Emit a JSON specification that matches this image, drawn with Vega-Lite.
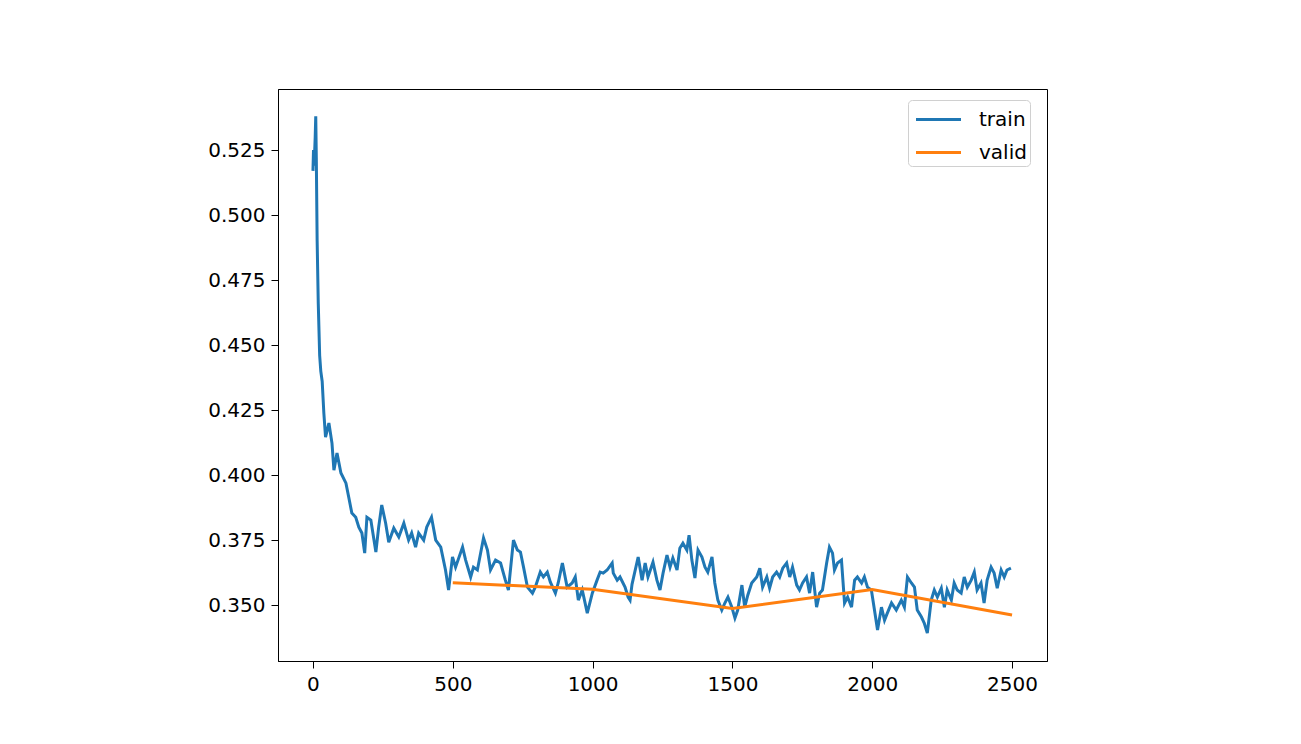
{
  "$schema": "https://vega.github.io/schema/vega-lite/v6.json",
  "width": 769,
  "height": 572,
  "autosize": {"type": "none"},
  "padding": {"left": 278, "top": 89, "right": 254, "bottom": 83},
  "background": "white",
  "config": {
    "view": {"stroke": "black", "strokeWidth": 1},
    "font": "DejaVu Sans",
    "axis": {
      "domainColor": "black", "tickColor": "black", "labelColor": "black",
      "grid": false, "tickSize": 7, "labelFontSize": 20, "labelFont": "DejaVu Sans",
      "labelPadding": 6, "title": null
    }
  },
  "data": {"values": [
    {"step":0,"loss":0.517,"series":"train"},{"step":2,"loss":0.525,"series":"train"},{"step":4,"loss":0.519,"series":"train"},{"step":6,"loss":0.524,"series":"train"},{"step":8,"loss":0.530,"series":"train"},{"step":10,"loss":0.538,"series":"train"},{"step":12,"loss":0.522,"series":"train"},{"step":15,"loss":0.490,"series":"train"},{"step":19,"loss":0.466,"series":"train"},{"step":24,"loss":0.446,"series":"train"},{"step":28,"loss":0.440,"series":"train"},{"step":33,"loss":0.436,"series":"train"},{"step":39,"loss":0.4238,"series":"train"},{"step":45,"loss":0.4146,"series":"train"},{"step":57,"loss":0.4200,"series":"train"},{"step":68,"loss":0.4123,"series":"train"},{"step":75,"loss":0.4019,"series":"train"},{"step":86,"loss":0.4085,"series":"train"},{"step":100,"loss":0.4008,"series":"train"},{"step":118,"loss":0.3969,"series":"train"},{"step":128,"loss":0.3915,"series":"train"},{"step":139,"loss":0.3854,"series":"train"},{"step":153,"loss":0.3838,"series":"train"},{"step":164,"loss":0.3800,"series":"train"},{"step":175,"loss":0.3777,"series":"train"},{"step":185,"loss":0.3700,"series":"train"},{"step":193,"loss":0.3838,"series":"train"},{"step":207,"loss":0.3827,"series":"train"},{"step":225,"loss":0.3704,"series":"train"},{"step":235,"loss":0.3800,"series":"train"},{"step":246,"loss":0.3885,"series":"train"},{"step":260,"loss":0.3815,"series":"train"},{"step":271,"loss":0.3742,"series":"train"},{"step":289,"loss":0.3796,"series":"train"},{"step":307,"loss":0.3762,"series":"train"},{"step":325,"loss":0.3815,"series":"train"},{"step":342,"loss":0.3750,"series":"train"},{"step":353,"loss":0.3777,"series":"train"},{"step":367,"loss":0.3723,"series":"train"},{"step":378,"loss":0.3777,"series":"train"},{"step":396,"loss":0.3750,"series":"train"},{"step":407,"loss":0.3800,"series":"train"},{"step":424,"loss":0.3838,"series":"train"},{"step":439,"loss":0.3750,"series":"train"},{"step":457,"loss":0.3723,"series":"train"},{"step":474,"loss":0.3635,"series":"train"},{"step":485,"loss":0.3558,"series":"train"},{"step":499,"loss":0.3685,"series":"train"},{"step":510,"loss":0.3646,"series":"train"},{"step":535,"loss":0.3723,"series":"train"},{"step":546,"loss":0.3673,"series":"train"},{"step":564,"loss":0.3608,"series":"train"},{"step":574,"loss":0.3646,"series":"train"},{"step":588,"loss":0.3635,"series":"train"},{"step":610,"loss":0.3758,"series":"train"},{"step":624,"loss":0.3712,"series":"train"},{"step":635,"loss":0.3635,"series":"train"},{"step":653,"loss":0.3673,"series":"train"},{"step":671,"loss":0.3662,"series":"train"},{"step":688,"loss":0.3596,"series":"train"},{"step":699,"loss":0.3558,"series":"train"},{"step":717,"loss":0.3750,"series":"train"},{"step":731,"loss":0.3712,"series":"train"},{"step":742,"loss":0.3704,"series":"train"},{"step":753,"loss":0.3646,"series":"train"},{"step":767,"loss":0.3569,"series":"train"},{"step":785,"loss":0.3546,"series":"train"},{"step":795,"loss":0.3569,"series":"train"},{"step":813,"loss":0.3627,"series":"train"},{"step":824,"loss":0.3608,"series":"train"},{"step":838,"loss":0.3627,"series":"train"},{"step":849,"loss":0.3588,"series":"train"},{"step":867,"loss":0.3546,"series":"train"},{"step":877,"loss":0.3585,"series":"train"},{"step":892,"loss":0.3662,"series":"train"},{"step":909,"loss":0.3569,"series":"train"},{"step":927,"loss":0.3585,"series":"train"},{"step":938,"loss":0.3608,"series":"train"},{"step":949,"loss":0.3519,"series":"train"},{"step":963,"loss":0.3558,"series":"train"},{"step":981,"loss":0.3469,"series":"train"},{"step":999,"loss":0.3546,"series":"train"},{"step":1016,"loss":0.3596,"series":"train"},{"step":1027,"loss":0.3627,"series":"train"},{"step":1038,"loss":0.3623,"series":"train"},{"step":1052,"loss":0.3635,"series":"train"},{"step":1070,"loss":0.3662,"series":"train"},{"step":1074,"loss":0.3623,"series":"train"},{"step":1088,"loss":0.3596,"series":"train"},{"step":1098,"loss":0.3608,"series":"train"},{"step":1116,"loss":0.3569,"series":"train"},{"step":1127,"loss":0.3531,"series":"train"},{"step":1134,"loss":0.3519,"series":"train"},{"step":1141,"loss":0.3580,"series":"train"},{"step":1163,"loss":0.3685,"series":"train"},{"step":1177,"loss":0.3596,"series":"train"},{"step":1188,"loss":0.3662,"series":"train"},{"step":1198,"loss":0.3608,"series":"train"},{"step":1216,"loss":0.3665,"series":"train"},{"step":1230,"loss":0.3596,"series":"train"},{"step":1241,"loss":0.3558,"series":"train"},{"step":1252,"loss":0.3623,"series":"train"},{"step":1266,"loss":0.3692,"series":"train"},{"step":1277,"loss":0.3646,"series":"train"},{"step":1287,"loss":0.3681,"series":"train"},{"step":1302,"loss":0.3635,"series":"train"},{"step":1312,"loss":0.3719,"series":"train"},{"step":1323,"loss":0.3738,"series":"train"},{"step":1337,"loss":0.3712,"series":"train"},{"step":1345,"loss":0.3769,"series":"train"},{"step":1355,"loss":0.3673,"series":"train"},{"step":1366,"loss":0.3604,"series":"train"},{"step":1377,"loss":0.3712,"series":"train"},{"step":1391,"loss":0.3685,"series":"train"},{"step":1402,"loss":0.3646,"series":"train"},{"step":1412,"loss":0.3627,"series":"train"},{"step":1427,"loss":0.3685,"series":"train"},{"step":1437,"loss":0.3585,"series":"train"},{"step":1448,"loss":0.3519,"series":"train"},{"step":1462,"loss":0.3481,"series":"train"},{"step":1473,"loss":0.3508,"series":"train"},{"step":1484,"loss":0.3531,"series":"train"},{"step":1498,"loss":0.3492,"series":"train"},{"step":1509,"loss":0.3450,"series":"train"},{"step":1519,"loss":0.3481,"series":"train"},{"step":1534,"loss":0.3577,"series":"train"},{"step":1544,"loss":0.3492,"series":"train"},{"step":1555,"loss":0.3538,"series":"train"},{"step":1569,"loss":0.3585,"series":"train"},{"step":1587,"loss":0.3608,"series":"train"},{"step":1598,"loss":0.3642,"series":"train"},{"step":1608,"loss":0.3569,"series":"train"},{"step":1623,"loss":0.3608,"series":"train"},{"step":1633,"loss":0.3565,"series":"train"},{"step":1644,"loss":0.3608,"series":"train"},{"step":1658,"loss":0.3627,"series":"train"},{"step":1669,"loss":0.3608,"series":"train"},{"step":1680,"loss":0.3642,"series":"train"},{"step":1694,"loss":0.3662,"series":"train"},{"step":1705,"loss":0.3608,"series":"train"},{"step":1715,"loss":0.3646,"series":"train"},{"step":1730,"loss":0.3577,"series":"train"},{"step":1740,"loss":0.3558,"series":"train"},{"step":1751,"loss":0.3585,"series":"train"},{"step":1765,"loss":0.3608,"series":"train"},{"step":1776,"loss":0.3546,"series":"train"},{"step":1787,"loss":0.3627,"series":"train"},{"step":1801,"loss":0.3492,"series":"train"},{"step":1812,"loss":0.3546,"series":"train"},{"step":1822,"loss":0.3558,"series":"train"},{"step":1837,"loss":0.3662,"series":"train"},{"step":1847,"loss":0.3723,"series":"train"},{"step":1858,"loss":0.3700,"series":"train"},{"step":1865,"loss":0.3635,"series":"train"},{"step":1876,"loss":0.3662,"series":"train"},{"step":1890,"loss":0.3673,"series":"train"},{"step":1901,"loss":0.3508,"series":"train"},{"step":1912,"loss":0.3531,"series":"train"},{"step":1926,"loss":0.3492,"series":"train"},{"step":1937,"loss":0.3596,"series":"train"},{"step":1947,"loss":0.3608,"series":"train"},{"step":1962,"loss":0.3585,"series":"train"},{"step":1972,"loss":0.3608,"series":"train"},{"step":1983,"loss":0.3569,"series":"train"},{"step":1997,"loss":0.3558,"series":"train"},{"step":2008,"loss":0.3481,"series":"train"},{"step":2019,"loss":0.3404,"series":"train"},{"step":2033,"loss":0.3492,"series":"train"},{"step":2044,"loss":0.3442,"series":"train"},{"step":2054,"loss":0.3469,"series":"train"},{"step":2069,"loss":0.3508,"series":"train"},{"step":2086,"loss":0.3481,"series":"train"},{"step":2104,"loss":0.3519,"series":"train"},{"step":2115,"loss":0.3492,"series":"train"},{"step":2126,"loss":0.3608,"series":"train"},{"step":2140,"loss":0.3585,"series":"train"},{"step":2151,"loss":0.3569,"series":"train"},{"step":2161,"loss":0.3481,"series":"train"},{"step":2176,"loss":0.3454,"series":"train"},{"step":2186,"loss":0.3431,"series":"train"},{"step":2197,"loss":0.3392,"series":"train"},{"step":2211,"loss":0.3519,"series":"train"},{"step":2222,"loss":0.3558,"series":"train"},{"step":2233,"loss":0.3531,"series":"train"},{"step":2247,"loss":0.3565,"series":"train"},{"step":2258,"loss":0.3492,"series":"train"},{"step":2268,"loss":0.3558,"series":"train"},{"step":2283,"loss":0.3519,"series":"train"},{"step":2293,"loss":0.3585,"series":"train"},{"step":2304,"loss":0.3558,"series":"train"},{"step":2318,"loss":0.3546,"series":"train"},{"step":2329,"loss":0.3608,"series":"train"},{"step":2340,"loss":0.3569,"series":"train"},{"step":2354,"loss":0.3596,"series":"train"},{"step":2365,"loss":0.3627,"series":"train"},{"step":2375,"loss":0.3558,"series":"train"},{"step":2389,"loss":0.3585,"series":"train"},{"step":2400,"loss":0.3508,"series":"train"},{"step":2411,"loss":0.3596,"series":"train"},{"step":2425,"loss":0.3646,"series":"train"},{"step":2436,"loss":0.3623,"series":"train"},{"step":2447,"loss":0.3565,"series":"train"},{"step":2461,"loss":0.3635,"series":"train"},{"step":2472,"loss":0.3608,"series":"train"},{"step":2482,"loss":0.3635,"series":"train"},{"step":2496,"loss":0.3642,"series":"train"},
    {"step":500,"loss":0.3586,"series":"valid"},{"step":1000,"loss":0.3561,"series":"valid"},{"step":1500,"loss":0.3487,"series":"valid"},{"step":2000,"loss":0.3560,"series":"valid"},{"step":2500,"loss":0.3462,"series":"valid"}
  ]},
  "mark": {"type": "line", "strokeWidth": 3, "clip": true},
  "encoding": {
    "x": {"field": "step", "type": "quantitative",
      "scale": {"domain": [-125, 2625], "nice": false, "zero": false},
      "axis": {"values": [0, 500, 1000, 1500, 2000, 2500], "format": "d"}},
    "y": {"field": "loss", "type": "quantitative",
      "scale": {"domain": [0.3285, 0.5485], "nice": false, "zero": false},
      "axis": {"values": [0.35, 0.375, 0.4, 0.425, 0.45, 0.475, 0.5, 0.525], "format": ".3f"}},
    "color": {"field": "series", "type": "nominal",
      "scale": {"domain": ["train", "valid"], "range": ["#1f77b4", "#ff7f0e"]},
      "legend": {"title": null, "orient": "none", "legendX": 630, "legendY": 11,
        "symbolType": "M-1.5,0H1.5", "symbolSize": 900, "symbolStrokeWidth": 3,
        "symbolOffset": 11,
        "labelFontSize": 20, "labelColor": "black", "labelOffset": 24,
        "fillColor": "white", "strokeColor": "#d0d0d0", "cornerRadius": 4,
        "padding": 3, "rowPadding": 6}},
    "order": {"field": "step", "type": "quantitative"}
  }
}
